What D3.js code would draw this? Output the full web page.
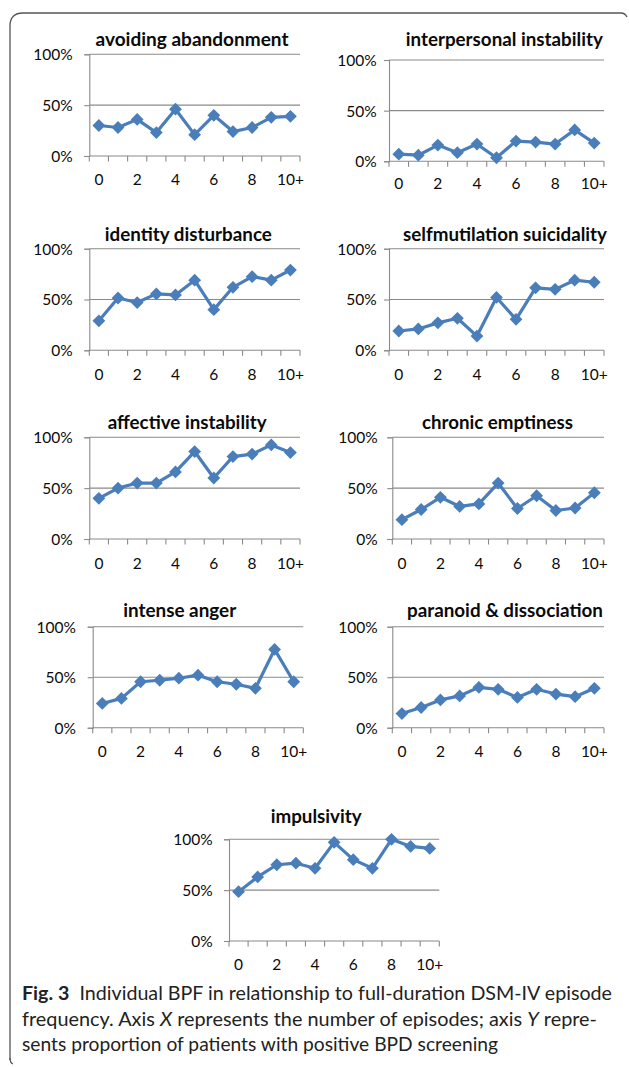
<!DOCTYPE html>
<html><head><meta charset="utf-8">
<script src="https://cdn.jsdelivr.net/npm/d3@7"></script>
<style>
html,body{margin:0;padding:0;background:#fff;}
svg{display:block;}
</style></head>
<body>
<svg id="c" width="629" height="1067"></svg>
<script>
// ---------- DATA ----------
const categories = ["0","1","2","3","4","5","6","7","8","9","10+"];
const yTicks = [0, 0.5, 1];
const titles = ["avoiding abandonment","interpersonal instability","identity disturbance","selfmutilation suicidality","affective instability","chronic emptiness","intense anger","paranoid & dissociation","impulsivity"];
const avoidingAbandonment = [0.30,0.28,0.36,0.23,0.46,0.21,0.40,0.24,0.28,0.38,0.39];
const interpersonalInstability = [0.07,0.06,0.16,0.085,0.17,0.035,0.20,0.19,0.17,0.31,0.18];
const identityDisturbance = [0.29,0.515,0.47,0.555,0.545,0.69,0.40,0.62,0.725,0.69,0.79];
const selfmutilationSuicidality = [0.19,0.21,0.27,0.315,0.14,0.52,0.305,0.615,0.60,0.69,0.67];
const affectiveInstability = [0.40,0.50,0.55,0.55,0.66,0.86,0.60,0.81,0.835,0.925,0.85];
const chronicEmptiness = [0.19,0.29,0.41,0.32,0.345,0.55,0.30,0.425,0.28,0.305,0.455];
const intenseAnger = [0.24,0.29,0.455,0.47,0.49,0.52,0.455,0.43,0.39,0.775,0.455];
const paranoidDissociation = [0.14,0.20,0.275,0.315,0.40,0.38,0.30,0.38,0.333,0.307,0.39];
const impulsivity = [0.485,0.63,0.75,0.765,0.715,0.97,0.80,0.715,1.00,0.93,0.91];
const seriesList = [avoidingAbandonment, interpersonalInstability, identityDisturbance, selfmutilationSuicidality, affectiveInstability, chronicEmptiness, intenseAnger, paranoidDissociation, impulsivity];

// ---------- LAYOUT ----------
const panels = [
  {x0:89.3, x1:300, yT:54.3, yB:156, tx:192, ty:39.3, tw:193, lr:72.7, xly:179.3},
  {x0:389, x1:604, yT:60, yB:161.3, tx:504.3, ty:39.3, tw:197, lr:376.7, xly:183.3},
  {x0:89.3, x1:300, yT:248.7, yB:350.3, tx:188.3, ty:235, tw:167, lr:72.7, xly:375},
  {x0:389, x1:604, yT:248.7, yB:350.3, tx:505, ty:235, tw:204, lr:376.7, xly:375},
  {x0:89.3, x1:300, yT:437.3, yB:539, tx:187.2, ty:422.7, tw:159, lr:72.7, xly:563.3},
  {x0:392.3, x1:604, yT:437.3, yB:539, tx:497.5, ty:422.7, tw:151, lr:377.7, xly:563.3},
  {x0:92.7, x1:303.3, yT:626.7, yB:727.7, tx:179.7, ty:611, tw:113, lr:76, xly:751.7},
  {x0:392.3, x1:604, yT:626.7, yB:727.7, tx:505, ty:611, tw:196, lr:377.7, xly:751.7},
  {x0:229, x1:439.3, yT:839.3, yB:941, tx:316.2, ty:816.7, tw:91, lr:212.7, xly:965}
];
const lineColor = "#4a7ebb";
const gridColor = "#8a8a8a";
const font = "Lato, 'Open Sans', sans-serif";

const svg = d3.select("#c");

// border
svg.append("path")
  .attr("d","M10,1060 L10,26 Q10,13 23,13 L621,13 Q625,13 627,17")
  .attr("fill","none").attr("stroke","#555").attr("stroke-width",1.3);
svg.append("path")
  .attr("d","M10,1058 Q10,1063 13,1064")
  .attr("fill","none").attr("stroke","#555").attr("stroke-width",1.3);

panels.forEach((p,i)=>{
  const vals = seriesList[i];
  const x = d3.scaleBand().domain(categories).range([p.x0,p.x1]).padding(0);
  const y = d3.scaleLinear().domain([0,1]).range([p.yB,p.yT]);
  const g = svg.append("g");

  // gridlines
  g.selectAll("line.grid").data(yTicks.filter(t=>t>0)).join("line")
    .attr("x1",p.x0).attr("x2",p.x1).attr("y1",d=>y(d)).attr("y2",d=>y(d))
    .attr("stroke",gridColor).attr("stroke-width",1.1);

  // y axis
  const ya = g.append("g").attr("transform",`translate(${p.x0},0)`)
    .call(d3.axisLeft(y).tickValues(yTicks).tickFormat(d3.format(".0%")).tickSize(5).tickPadding(p.x0-p.lr-5));
  ya.select(".domain").attr("stroke",gridColor).attr("stroke-width",1.1);
  ya.selectAll(".tick line").attr("stroke",gridColor).attr("stroke-width",1.1);
  ya.selectAll("text").attr("font-family",font).attr("font-size",15.5).attr("fill","#0a0a0a").attr("dy","0.35em");

  // x axis: tick marks at category boundaries
  const bounds = d3.range(categories.length+1).map(k=>p.x0 + k*x.step());
  g.append("line").attr("x1",p.x0).attr("x2",p.x1).attr("y1",p.yB).attr("y2",p.yB)
    .attr("stroke",gridColor).attr("stroke-width",1.1);
  g.selectAll("line.xt").data(bounds).join("line")
    .attr("x1",d=>d).attr("x2",d=>d).attr("y1",p.yB).attr("y2",p.yB+5.5)
    .attr("stroke",gridColor).attr("stroke-width",1.1);
  g.selectAll("text.xl").data(categories.filter((c,k)=>k%2===0)).join("text")
    .attr("x",d=>x(d)+x.bandwidth()/2).attr("y",p.xly).attr("dy","0.35em")
    .attr("text-anchor","middle").attr("font-family",font).attr("font-size",15.5).attr("fill","#0a0a0a")
    .text(d=>d);

  // title
  g.append("text").attr("x",p.tx).attr("y",p.ty).attr("dy","0.36em")
    .attr("text-anchor","middle").attr("font-family",font).attr("font-weight","bold")
    .attr("font-size",18).attr("fill","#0a0a0a")
    .attr("textLength",p.tw).attr("lengthAdjust","spacingAndGlyphs")
    .text(titles[i]);

  // line
  const line = d3.line().x((d,k)=>x(categories[k])+x.bandwidth()/2).y(d=>y(d));
  g.append("path").datum(vals).attr("d",line).attr("fill","none")
    .attr("stroke",lineColor).attr("stroke-width",3.2).attr("stroke-linejoin","round");
  const sym = d3.symbol().type(d3.symbolSquare).size(82);
  g.selectAll("path.m").data(vals).join("path")
    .attr("d",sym)
    .attr("transform",(d,k)=>`translate(${x(categories[k])+x.bandwidth()/2},${y(d)}) rotate(45)`)
    .attr("fill",lineColor);
});

// caption
const cap = [
  {y:1000, w:590, parts:[{t:"Fig. 3",b:true},{t:"  Individual BPF in relationship to full-duration DSM-IV episode"}]},
  {y:1025.5, w:575, parts:[{t:"frequency. Axis "},{t:"X",i:true},{t:" represents the number of episodes; axis "},{t:"Y",i:true},{t:" repre-"}]},
  {y:1051, w:476, parts:[{t:"sents proportion of patients with positive BPD screening"}]}
];
cap.forEach(l=>{
  const t = svg.append("text").attr("x",22).attr("y",l.y)
    .attr("font-family",font).attr("font-size",19).attr("fill","#222")
    .attr("textLength",l.w).attr("lengthAdjust","spacingAndGlyphs")
    .attr("xml:space","preserve").style("white-space","pre");
  l.parts.forEach(pt=>{
    t.append("tspan").text(pt.t)
      .attr("font-weight",pt.b?"bold":null)
      .attr("font-style",pt.i?"italic":null);
  });
});
</script>
</body></html>
